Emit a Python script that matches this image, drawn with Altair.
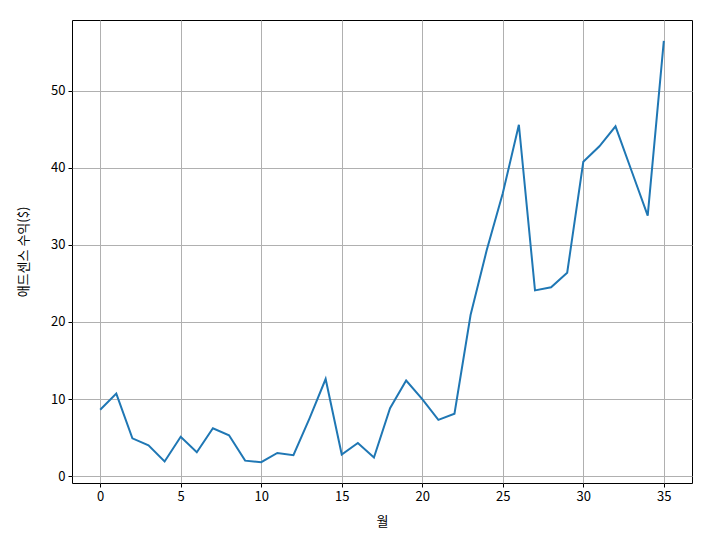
import altair as alt
import pandas as pd

months = list(range(36))
revenue = [8.6, 10.7, 4.9, 4.0, 1.9, 5.1, 3.1, 6.2, 5.3, 2.0,
           1.8, 3.0, 2.7, 7.5, 12.6, 2.8, 4.3, 2.4, 8.8, 12.4,
           10.0, 7.3, 8.1, 20.9, 29.3, 36.7, 45.6, 24.1, 24.5, 26.4,
           40.8, 42.8, 45.4, 39.6, 33.8, 56.5]

df = pd.DataFrame({"month": months, "revenue": revenue})

font = "Noto Sans CJK KR"

chart = alt.Chart(df).mark_line(color="#1f77b4", strokeWidth=2).encode(
    x=alt.X("month:Q", title="월",
            scale=alt.Scale(domain=[-1.75, 36.75], nice=False, zero=False),
            axis=alt.Axis(values=[0, 5, 10, 15, 20, 25, 30, 35], format="d")),
    y=alt.Y("revenue:Q", title="애드센스 수익($)",
            scale=alt.Scale(domain=[-0.9, 59.2], nice=False, zero=False),
            axis=alt.Axis(values=[0, 10, 20, 30, 40, 50], format="d")),
).properties(
    width=620, height=463,
    autosize=alt.AutoSizeParams(type="none"),
    padding={"left": 64, "top": 12, "right": 11, "bottom": 48},
).configure_view(
    stroke="black", strokeWidth=1
).configure_axis(
    labelFont=font, titleFont=font,
    labelFontSize=13, titleFontSize=13,
    labelColor="black", titleColor="black",
    titleFontWeight="normal",
    grid=True, gridColor="#b0b0b0", gridWidth=1,
    domain=False,
    tickColor="black", tickSize=4, tickWidth=1,
    labelPadding=3,
).configure_axisX(titlePadding=12).configure_axisY(titlePadding=20)

chart.save("out.html", embed_options={"renderer": "svg", "actions": False})
